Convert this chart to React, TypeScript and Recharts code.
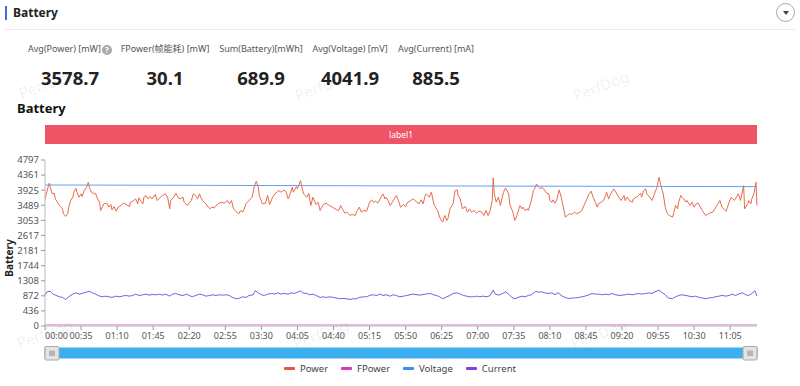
import React from 'react';
import { LineChart, Line, XAxis, YAxis, Brush } from 'recharts';

// [seconds, mW]
const powerSamples: [number, number][] = [
  [0, 3674], [4, 4125], [7, 3818], [9, 3837], [10, 3674], [13, 3530], [15, 3453], [17, 3386], [18, 3242], [20, 3165],
  [22, 3242], [23, 3434], [25, 3626], [27, 3722], [28, 3866], [30, 3981], [31, 3866], [33, 3722], [35, 3818], [36, 3741],
  [38, 3914], [40, 3991], [41, 4058], [42, 4154], [43, 4010], [45, 3866], [48, 3818], [49, 3837], [51, 3674], [53, 3578],
  [54, 3338], [56, 3453], [57, 3530], [60, 3549], [62, 3434], [64, 3511], [65, 3357], [67, 3453], [69, 3319], [71, 3434],
  [74, 3482], [76, 3549], [78, 3530], [82, 3453], [83, 3578], [86, 3626], [88, 3674], [90, 3530], [91, 3703], [95, 3530],
  [96, 3722], [98, 3770], [100, 3674], [102, 3741], [104, 3674], [107, 3799], [109, 3626], [112, 3722], [114, 3770], [117, 3818],
  [119, 3722], [121, 3386], [122, 3626], [125, 3722], [127, 3837], [129, 3722], [131, 3674], [134, 3722], [135, 3578], [138, 3482],
  [142, 3626], [144, 3818], [147, 3741], [148, 3674], [150, 3818], [151, 3722], [153, 3626], [156, 3530], [160, 3386], [162, 3434],
  [164, 3415], [168, 3530], [171, 3578], [174, 3549], [177, 3626], [179, 3530], [181, 3626], [183, 3386], [186, 3290], [188, 3242],
  [190, 3338], [192, 3290], [194, 3434], [195, 3530], [198, 3626], [201, 3722], [203, 4010], [205, 4183], [207, 4010], [208, 3770],
  [211, 3530], [214, 3549], [216, 3770], [218, 3511], [221, 3722], [223, 3818], [227, 3914], [229, 3866], [232, 3933], [234, 3866],
  [236, 3674], [238, 3818], [240, 4010], [241, 3866], [244, 4029], [245, 3962], [248, 4202], [249, 4058], [251, 3818], [254, 3722],
  [256, 3837], [258, 3482], [260, 3722], [263, 3511], [265, 3578], [267, 3338], [270, 3511], [273, 3549], [276, 3482], [280, 3415],
  [283, 3357], [285, 3338], [287, 3482], [289, 3357], [291, 3261], [293, 3290], [296, 3194], [298, 3223], [301, 3194], [303, 3338],
  [305, 3434], [307, 3290], [309, 3338], [312, 3319], [314, 3482], [315, 3578], [317, 3645], [319, 3578], [321, 3607], [323, 3549],
  [327, 3770], [328, 3818], [330, 3674], [331, 3722], [333, 3626], [335, 3482], [337, 3578], [339, 3674], [341, 3770], [343, 3626],
  [345, 3434], [348, 3511], [350, 3453], [352, 3578], [355, 3626], [357, 3674], [361, 3578], [363, 3530], [365, 3645], [367, 3530],
  [369, 3770], [370, 3818], [373, 3722], [375, 3866], [377, 3578], [378, 3482], [381, 3338], [383, 3146], [385, 3031], [386, 3002],
  [388, 3194], [390, 3050], [391, 3098], [393, 3386], [396, 3530], [398, 3914], [400, 3933], [401, 3770], [403, 3674], [405, 3386],
  [408, 3453], [410, 3290], [412, 3386], [414, 3290], [416, 3338], [419, 3261], [421, 3319], [424, 3290], [426, 3194], [428, 3338],
  [430, 3194], [432, 3338], [434, 3626], [435, 4279], [436, 3818], [438, 3578], [440, 3722], [442, 3482], [443, 3626], [445, 3866],
  [447, 3991], [450, 3818], [451, 3530], [454, 3290], [456, 3050], [458, 3194], [460, 3386], [461, 3482], [463, 3386], [464, 3434],
  [466, 3338], [468, 3386], [469, 3338], [471, 3530], [472, 3626], [474, 3914], [476, 4010], [477, 4106], [479, 4010], [481, 3962],
  [482, 4010], [484, 3962], [485, 3914], [487, 3837], [489, 3818], [490, 3626], [492, 3578], [493, 3645], [495, 3549], [497, 3674],
  [498, 3818], [499, 3933], [501, 3722], [503, 3434], [505, 3146], [507, 3194], [509, 3242], [511, 3223], [514, 3290], [516, 3242],
  [519, 3290], [521, 3338], [523, 3482], [526, 3674], [528, 3818], [530, 3895], [532, 3722], [534, 3578], [536, 3434], [537, 3530],
  [540, 3578], [542, 3626], [544, 3770], [545, 3866], [547, 3674], [549, 3818], [552, 3962], [554, 3866], [557, 3722], [559, 3626],
  [562, 3770], [563, 3626], [565, 3722], [567, 3626], [570, 3578], [571, 3674], [574, 3722], [576, 3770], [578, 3837], [579, 3722],
  [581, 3914], [583, 3962], [584, 3818], [587, 3722], [589, 3626], [591, 3770], [592, 3866], [594, 4010], [596, 4298], [597, 4154],
  [599, 3914], [600, 3818], [602, 3434], [604, 3242], [606, 3194], [609, 3146], [610, 3242], [612, 3482], [614, 3386], [615, 3578],
  [617, 3770], [618, 3722], [620, 3674], [622, 3578], [623, 3626], [626, 3482], [628, 3578], [630, 3434], [632, 3530], [634, 3549],
  [636, 3434], [638, 3338], [639, 3290], [641, 3194], [643, 3223], [645, 3261], [648, 3290], [650, 3386], [652, 3482], [655, 3626],
  [657, 3434], [660, 3338], [661, 3319], [664, 3578], [666, 3722], [669, 3626], [671, 3722], [673, 3818], [675, 3626], [678, 4058],
  [679, 3386], [682, 3530], [683, 3626], [685, 3530], [686, 3674], [688, 3818], [690, 4154], [691, 3482],
];

// [seconds, mA]
const currentSamples: [number, number][] = [
  [0, 892], [2, 988], [5, 1007], [7, 940], [10, 892], [14, 844], [17, 825], [20, 767], [23, 844], [27, 921],
  [30, 959], [33, 921], [36, 940], [40, 978], [43, 1007], [46, 959], [49, 921], [53, 863], [56, 844], [59, 863],
  [62, 844], [65, 825], [69, 863], [72, 844], [75, 863], [78, 882], [82, 863], [85, 882], [88, 921], [91, 882],
  [95, 902], [98, 921], [101, 892], [104, 911], [108, 902], [111, 921], [114, 892], [117, 921], [121, 863], [124, 921],
  [127, 940], [130, 902], [134, 882], [137, 921], [140, 882], [143, 844], [147, 892], [150, 921], [153, 902], [156, 863],
  [160, 882], [163, 902], [166, 882], [169, 902], [172, 892], [176, 902], [179, 882], [182, 825], [186, 786], [189, 806],
  [192, 844], [195, 825], [198, 882], [202, 902], [204, 1017], [207, 959], [210, 902], [213, 882], [216, 921], [220, 940],
  [223, 921], [226, 959], [229, 921], [232, 940], [236, 921], [239, 959], [242, 940], [245, 978], [248, 1017], [250, 959],
  [254, 940], [257, 902], [260, 921], [263, 882], [267, 825], [270, 844], [273, 825], [276, 844], [280, 825], [283, 806],
  [286, 786], [289, 796], [293, 786], [296, 767], [299, 786], [302, 786], [305, 825], [309, 844], [312, 844], [315, 882],
  [318, 902], [322, 882], [325, 921], [328, 882], [331, 902], [335, 863], [338, 902], [341, 882], [344, 844], [348, 863],
  [351, 882], [357, 921], [364, 892], [369, 921], [374, 940], [377, 902], [380, 882], [383, 844], [386, 786], [390, 844],
  [393, 882], [396, 940], [400, 959], [403, 921], [406, 882], [409, 863], [412, 844], [416, 844], [419, 863], [422, 844],
  [425, 863], [429, 844], [432, 882], [435, 1036], [437, 921], [440, 892], [443, 921], [447, 988], [450, 921], [453, 825],
  [456, 786], [459, 825], [463, 863], [466, 844], [469, 882], [472, 902], [476, 998], [479, 978], [482, 988], [485, 959],
  [489, 940], [492, 959], [495, 902], [498, 959], [502, 863], [505, 825], [508, 796], [511, 806], [515, 815], [518, 825],
  [521, 844], [524, 863], [528, 902], [531, 940], [534, 921], [537, 921], [541, 902], [544, 921], [547, 902], [550, 940],
  [554, 902], [557, 882], [560, 892], [563, 902], [566, 921], [570, 902], [573, 921], [576, 940], [579, 921], [583, 940],
  [586, 959], [589, 940], [592, 988], [596, 1036], [599, 959], [602, 902], [605, 806], [609, 796], [612, 844], [615, 882],
  [618, 902], [622, 882], [625, 863], [628, 844], [631, 863], [635, 825], [638, 806], [641, 786], [644, 806], [648, 825],
  [651, 844], [654, 863], [657, 882], [661, 863], [664, 882], [667, 921], [670, 882], [673, 921], [677, 959], [680, 902],
  [683, 882], [686, 940], [689, 1017], [691, 863],
];

const voltageTimes = [0, 115, 230, 345, 460, 575, 691];
const voltageValues = [4075, 4068, 4058, 4050, 4042, 4035, 4028];

const fpowerTimes = [0, 115, 230, 345, 460, 575, 691];
const fpowerValues = [30, 31, 30, 29, 30, 31, 30];

const yTicks = [0, 436, 872, 1308, 1744, 2181, 2617, 3053, 3489, 3925, 4361, 4797];
const xTicks = [0, 35, 70, 105, 140, 175, 210, 245, 280, 315, 350, 385, 420, 455, 490, 525, 560, 595, 630, 665];

const statLabels = ['Avg(Power) [mW]', 'FPower(帧能耗) [mW]', 'Sum(Battery)[mWh]', 'Avg(Voltage) [mV]', 'Avg(Current) [mA]'];
const statValues = ['3578.7', '30.1', '689.9', '4041.9', '885.5'];
const statCenters = [70, 165, 261, 350, 436];

const seriesNames = ['Power', 'FPower', 'Voltage', 'Current'];
const seriesColors = ['#ea6a4b', '#d57ad6', '#64a0f2', '#8058e2'];
const legendIconColors = ['#e8573d', '#d23fb9', '#3d8cf0', '#7a45e0'];

const powerData = powerSamples.map(([t, v]) => ({ t, power: v }));
const currentData = currentSamples.map(([t, v]) => ({ t, current: v }));
const voltageData = voltageTimes.map((t, i) => ({ t, voltage: voltageValues[i] }));
const fpowerData = fpowerTimes.map((t, i) => ({ t, fpower: fpowerValues[i] }));

const FONT = "'Noto Sans', 'Noto Sans CJK SC', sans-serif";

const fmtTime = (s: number) => {
  const m = Math.floor(s / 60);
  const sec = s % 60;
  return `${String(m).padStart(2, '0')}:${String(sec).padStart(2, '0')}`;
};

// first label sits to the right of its tick, the rest are centred
const XTick = (props: any) => {
  const { x, y, payload } = props;
  return (
    <text x={x} y={y} dy="0.75em" textAnchor={payload.value === 0 ? 'start' : 'middle'} fontSize={9} fill="#555" fontFamily={FONT}>
      {fmtTime(payload.value)}
    </text>
  );
};

const YAxisTitle = (props: any) => {
  const vb = props.viewBox || { y: 10, height: 166 };
  const cx = 9;
  const cy = vb.y + vb.height / 2 + 15;
  return (
    <text
      x={cx}
      y={cy}
      transform={`rotate(-90 ${cx} ${cy})`}
      textAnchor="middle"
      dominantBaseline="central"
      fontFamily={FONT}
      fontSize={10}
      fontWeight={700}
      fill="#222"
    >
      Battery
    </text>
  );
};

// handle is a little taller than the bar
const Traveller = (props: any) => {
  const { x, y, width, height } = props;
  const mx = x + width / 2;
  const top = y - 1.5;
  const h = height + 3.5;
  return (
    <g>
      <rect x={x} y={top} width={width} height={h} fill="#e4e4e4" stroke="#aaa" strokeWidth={1} rx={1} />
      <line x1={mx - 2} y1={top + 4} x2={mx - 2} y2={top + h - 4} stroke="#888" />
      <line x1={mx} y1={top + 4} x2={mx} y2={top + h - 4} stroke="#888" />
      <line x1={mx + 2} y1={top + 4} x2={mx + 2} y2={top + h - 4} stroke="#888" />
    </g>
  );
};

const watermarks = [
  [16, 84], [292, 86], [570, 86], [14, 334], [290, 334], [568, 334],
];

export default function App() {
  return (
    <div style={{ position: 'relative', width: 800, height: 386, background: '#fff', fontFamily: FONT, overflow: 'hidden' }}>
      <style>{'body{margin:0}'}</style>

      {/* header */}
      <div style={{ position: 'absolute', left: 5, top: 6, width: 2, height: 14, background: '#3b6fdc' }} />
      <div style={{ position: 'absolute', left: 13, top: 4, fontSize: 12, fontWeight: 700, color: '#222' }}>Battery</div>
      <div style={{ position: 'absolute', left: 5, top: 29, width: 790, height: 1, background: '#ebebeb' }} />
      <div
        style={{
          position: 'absolute', left: 776, top: 3, width: 19, height: 19, borderRadius: '50%',
          border: '1px solid #aaa', boxSizing: 'border-box', display: 'flex', alignItems: 'center', justifyContent: 'center',
        }}
      >
        <div style={{ width: 0, height: 0, borderLeft: '3.5px solid transparent', borderRight: '3.5px solid transparent', borderTop: '4px solid #444' }} />
      </div>

      {/* stats */}
      {statLabels.map((label, i) => (
        <div key={label} style={{ position: 'absolute', left: statCenters[i] - 60, top: 41, width: 120, textAlign: 'center' }}>
          <div style={{ fontSize: 9, color: '#555', whiteSpace: 'nowrap', height: 16, lineHeight: '16px' }}>
            {label}
            {i === 0 && (
              <span
                style={{
                  display: 'inline-block', width: 10, height: 10, borderRadius: '50%', background: '#a9a9a9', color: '#fff',
                  fontSize: 8, lineHeight: '10px', textAlign: 'center', marginLeft: 1, verticalAlign: -1, fontWeight: 700,
                }}
              >
                ?
              </span>
            )}
          </div>
          <div style={{ fontSize: 18.5, fontWeight: 700, color: '#222', marginTop: 9, lineHeight: '24px' }}>{statValues[i]}</div>
        </div>
      ))}

      <div style={{ position: 'absolute', left: 17, top: 99, fontSize: 13, fontWeight: 700, color: '#111' }}>Battery</div>

      {/* label bar */}
      <div
        style={{
          position: 'absolute', left: 45, top: 125, width: 712, height: 19, background: '#ee5466', color: '#fff',
          fontSize: 8.5, lineHeight: '19px', textAlign: 'center',
        }}
      >
        label1
      </div>

      <div style={{ position: 'absolute', left: 0, top: 150 }}>
        <LineChart width={800} height={236} data={powerData} margin={{ top: 10, right: 43, bottom: 28, left: 0 }}>
          <XAxis
            dataKey="t"
            type="number"
            domain={[0, 691]}
            ticks={xTicks}
            interval={0}
            height={22}
            tick={<XTick />}
            tickLine={{ stroke: '#999' }}
            tickSize={4}
            stroke="#bbb"
          />
          <YAxis
            type="number"
            domain={[0, 4797]}
            ticks={yTicks}
            interval={0}
            width={45}
            tick={{ fontSize: 9.5, fill: '#555', fontFamily: FONT }}
            tickLine={{ stroke: '#999' }}
            tickSize={4}
            stroke="#bbb"
            label={<YAxisTitle />}
          />
          <Line type="linear" dataKey="power" name="Power" stroke={seriesColors[0]} strokeWidth={1} dot={false} isAnimationActive={false} />
          <Line type="linear" data={fpowerData} dataKey="fpower" name="FPower" stroke={seriesColors[1]} strokeWidth={1} dot={false} isAnimationActive={false} />
          <Line type="linear" data={voltageData} dataKey="voltage" name="Voltage" stroke={seriesColors[2]} strokeWidth={1} dot={false} isAnimationActive={false} />
          <Line type="linear" data={currentData} dataKey="current" name="Current" stroke={seriesColors[3]} strokeWidth={1} dot={false} isAnimationActive={false} />
          <Brush
            dataKey="t"
            x={45}
            y={198}
            width={712}
            height={10}
            travellerWidth={14}
            fill="#3eaff0"
            stroke="#3eaff0"
            traveller={(p: any) => <Traveller {...p} />}
            tickFormatter={() => ''}
          />
        </LineChart>
      </div>

      {/* legend */}
      <div style={{ position: 'absolute', left: 0, top: 362, width: 800, display: 'flex', justifyContent: 'center', gap: 13, fontSize: 9.5, color: '#444' }}>
        {seriesNames.map((n, i) => (
          <div key={n} style={{ display: 'flex', alignItems: 'center' }}>
            <div style={{ width: 11, height: 3, background: legendIconColors[i], marginRight: 5, borderRadius: 1 }} />
            <span>{n}</span>
          </div>
        ))}
      </div>

      {/* watermarks */}
      {watermarks.map(([x, y], i) => (
        <div
          key={i}
          style={{
            position: 'absolute', left: x, top: y, fontSize: 15, color: 'rgba(0,0,0,0.07)', transform: 'rotate(-20deg)',
            transformOrigin: 'left top', pointerEvents: 'none',
          }}
        >
          PerfDog
        </div>
      ))}
    </div>
  );
}
